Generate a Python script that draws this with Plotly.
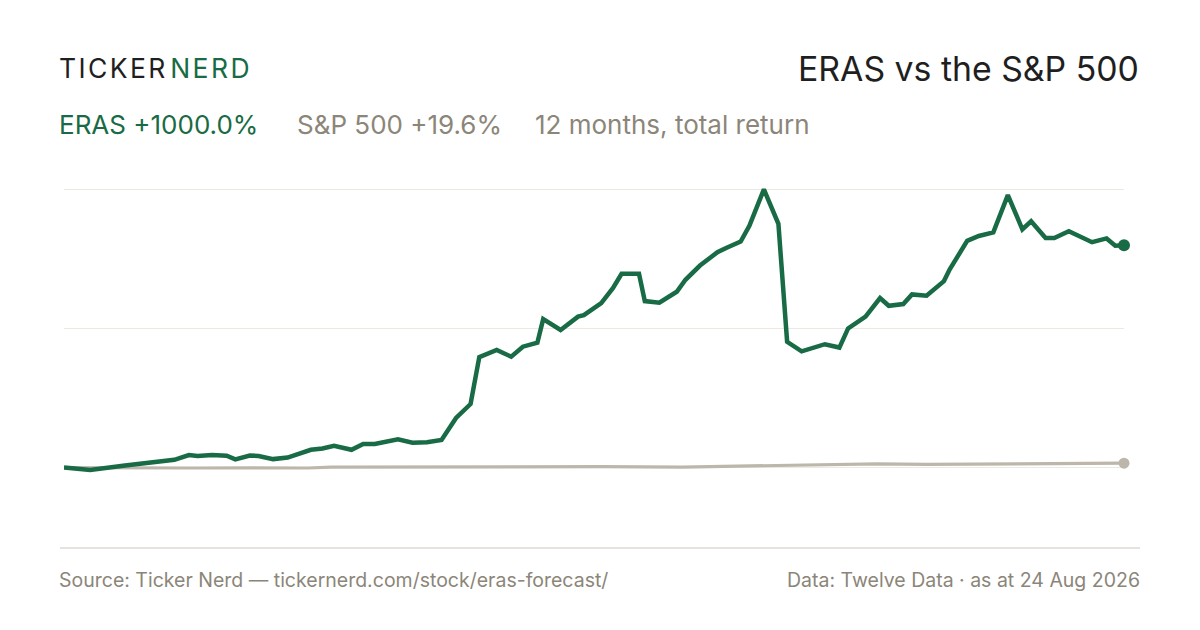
import pandas as pd
import plotly.graph_objects as go

START = pd.Timestamp("2025-08-24")

# ERAS total return (%), day offsets from start
eras_days = [0, 9, 21, 25, 30, 35, 38, 43, 46, 51, 56, 59, 64, 67, 72, 77, 81, 85, 89, 93,
             99, 103, 107, 111, 115, 120, 125, 130, 135, 140, 143, 149, 154, 158, 163, 165,
             171, 177, 179, 185, 189, 192, 198, 200, 205, 211, 214, 219, 225, 228, 233, 236,
             241, 246, 249, 254, 262, 267, 270, 276, 281, 284, 289, 292, 297, 303, 305, 311,
             315, 320, 325, 330, 333, 338, 341, 346, 354, 359, 362, 365]
eras_ret = [0, -11, 9, 16, 22, 32, 35, 56, 52, 56, 53, 37, 54, 52, 38, 45, 62, 80, 86, 98,
            80, 106, 106, 115, 127, 112, 114, 124, 223, 286, 497, 529, 499, 544, 562, 668,
            619, 679, 686, 740, 807, 872, 872, 749, 742, 791, 845, 909, 969, 988, 1017, 1088,
            1252, 1097, 566, 523, 555, 540, 626, 679, 763, 728, 736, 779, 773, 839, 892, 1020,
            1042, 1058, 1226, 1072, 1108, 1033, 1033, 1063, 1014, 1031, 998, 1000.0]

# S&P 500 total return (%)
spx_days = [0, 9, 23, 44, 64, 84, 92, 116, 150, 185, 213, 226, 240, 252, 280, 297, 315, 326,
            340, 353, 365]
spx_ret = [0, -1, 0.5, -2, -1, -2, 2, 3, 4, 4, 2, 5, 11, 13, 17, 14, 15, 19, 17, 19, 19.6]

grid_vals = [0, 625, 1250]

GREEN = "#186b44"
GREY_LINE = "#bdb6ab"
GREY_TEXT = "#8b8679"
DARK = "#1f1f1f"
FONT = "Inter"

eras_x = START + pd.to_timedelta(eras_days, unit="D")
spx_x = START + pd.to_timedelta(spx_days, unit="D")

fig = go.Figure()
fig.add_trace(go.Scatter(x=spx_x, y=spx_ret, mode="lines",
                         line=dict(color=GREY_LINE, width=3.2), hoverinfo="skip"))
fig.add_trace(go.Scatter(x=[spx_x[-1]], y=[spx_ret[-1]], mode="markers", cliponaxis=False,
                         marker=dict(color=GREY_LINE, size=11), hoverinfo="skip"))
fig.add_trace(go.Scatter(x=eras_x, y=eras_ret, mode="lines",
                         line=dict(color=GREEN, width=4.5, shape="linear"), hoverinfo="skip"))
fig.add_trace(go.Scatter(x=[eras_x[-1]], y=[eras_ret[-1]], mode="markers", cliponaxis=False,
                         marker=dict(color=GREEN, size=12), hoverinfo="skip"))

fig.update_layout(
    width=1200, height=630,
    margin=dict(l=64, r=76, t=180, b=82),
    paper_bgcolor="white", plot_bgcolor="white",
    showlegend=False,
    font=dict(family=FONT, color=GREY_TEXT),
    xaxis=dict(range=[eras_x[0], eras_x[-1]], showgrid=False, showticklabels=False,
               zeroline=False, showline=False, ticks=""),
    yaxis=dict(range=[-362, 1294], tickvals=grid_vals, showticklabels=False,
               gridcolor="#ece9e3", gridwidth=1, zeroline=False, showline=False, ticks=""),
)

# bottom rule
fig.add_shape(type="line", xref="paper", yref="paper", x0=-0.0038, x1=1.0151, y0=0, y1=0,
              line=dict(color="#dedad1", width=1.5))

LX = -0.0066
sp = "\u200a"
ticker = sp.join("TICKER")
nerd = sp.join("NERD")
fig.add_annotation(xref="paper", yref="paper", x=LX, y=1.3043, xanchor="left", yanchor="middle",
                   text=f"<span style='color:{DARK}'>{ticker}</span>{sp}{sp}<span style='color:{GREEN}'>{nerd}</span>",
                   showarrow=False, font=dict(size=26.5, family=FONT))
fig.add_annotation(xref="paper", yref="paper", x=1.016, y=1.3043, xanchor="right", yanchor="middle",
                   text="ERAS vs the S&P 500", showarrow=False,
                   font=dict(size=33.8, family=FONT, color=DARK))

fig.add_annotation(xref="paper", yref="paper", x=LX, y=1.152, xanchor="left", yanchor="middle",
                   text=f"ERAS {eras_ret[-1]:+.1f}%", showarrow=False,
                   font=dict(size=26, family=FONT, color=GREEN))
fig.add_annotation(xref="paper", yref="paper", x=0.2180, y=1.152, xanchor="left", yanchor="middle",
                   text=f"S&P 500 {spx_ret[-1]:+.1f}%", showarrow=False,
                   font=dict(size=26, family=FONT, color=GREY_TEXT))
fig.add_annotation(xref="paper", yref="paper", x=0.4425, y=1.152, xanchor="left", yanchor="middle",
                   text="12 months, total return", showarrow=False,
                   font=dict(size=26, family=FONT, color=GREY_TEXT))

fig.add_annotation(xref="paper", yref="paper", x=LX, y=-0.087, xanchor="left", yanchor="middle",
                   text="Source: Ticker Nerd \u2014 tickernerd.com/stock/eras-forecast/", showarrow=False,
                   font=dict(size=19.5, family=FONT, color=GREY_TEXT))
fig.add_annotation(xref="paper", yref="paper", x=1.017, y=-0.087, xanchor="right", yanchor="middle",
                   text="Data: Twelve Data \u00b7 as at 24 Aug 2026", showarrow=False,
                   font=dict(size=19.5, family=FONT, color=GREY_TEXT))

fig.write_html("out.html", config={"displayModeBar": False},
               post_script="document.body.style.margin='0';")
